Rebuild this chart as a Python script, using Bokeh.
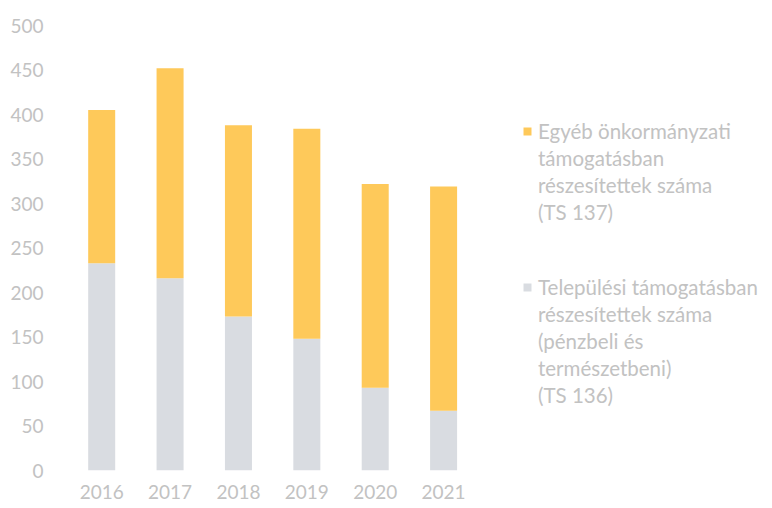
from bokeh.plotting import figure
from bokeh.models import ColumnDataSource, Legend, LegendItem, FixedTicker, Range1d
from bokeh.embed import file_html
from bokeh.resources import INLINE

years = [2016, 2017, 2018, 2019, 2020, 2021]
telepulesi = [233, 216, 173, 148, 93, 67]
egyeb = [172, 236, 215, 236, 229, 252]
y_ticks = [0, 50, 100, 150, 200, 250, 300, 350, 400, 450, 500]
label_egyeb = ["Egyéb önkormányzati", "támogatásban", "részesítettek száma", "(TS 137)"]
label_telep = ["Települési támogatásban", "részesítettek száma", "(pénzbeli és",
               "természetbeni)", "(TS 136)"]

GREY = "#d9dce1"
YELLOW = "#fec95a"
TEXT = "#c2c2c2"
FONT = "Lato"

source = ColumnDataSource(dict(year=years, telepulesi=telepulesi, egyeb=egyeb))

p = figure(width=772, height=508, output_backend="svg", toolbar_location=None,
           x_range=Range1d(2015.5, 2025.81), y_range=Range1d(0, 500),
           min_border_left=67, min_border_right=0, min_border_top=25, min_border_bottom=38)
p.outline_line_color = None
p.xgrid.grid_line_color = None
p.ygrid.grid_line_color = None

rs = p.vbar_stack(["telepulesi", "egyeb"], x="year", width=0.395, source=source,
                  color=[GREY, YELLOW], line_color=None)
# invisible renderer used for the continuation lines of the legend texts
blank = p.vbar(x=[], top=[], width=0.1, fill_alpha=0, line_alpha=0)

for ax in (p.xaxis[0], p.yaxis[0]):
    ax.axis_line_color = None
    ax.major_tick_line_color = None
    ax.minor_tick_line_color = None
    ax.major_tick_out = 0
    ax.major_tick_in = 0
    ax.minor_tick_out = 0
    ax.major_label_text_color = TEXT
    ax.major_label_text_font = FONT
    ax.major_label_text_font_size = "19px"

p.xaxis.ticker = FixedTicker(ticks=years)
p.xaxis.major_label_standoff = 14
p.yaxis.ticker = FixedTicker(ticks=y_ticks)
p.yaxis.major_label_standoff = 24


def make_legend(lines, renderer, loc):
    items = [LegendItem(label=lines[0], renderers=[renderer])]
    items += [LegendItem(label=t, renderers=[blank]) for t in lines[1:]]
    return Legend(items=items, location=loc, padding=0, margin=0, spacing=0,
                  glyph_width=10, glyph_height=10, label_standoff=6, label_height=27,
                  border_line_color=None, background_fill_alpha=0,
                  label_text_font=FONT, label_text_font_size="20.5px",
                  label_text_color=TEXT)


p.add_layout(make_legend(label_egyeb, rs[1], (455, 245)))
p.add_layout(make_legend(label_telep, rs[0], (455, 62)))

open("out.html", "w").write(file_html(p, INLINE))
